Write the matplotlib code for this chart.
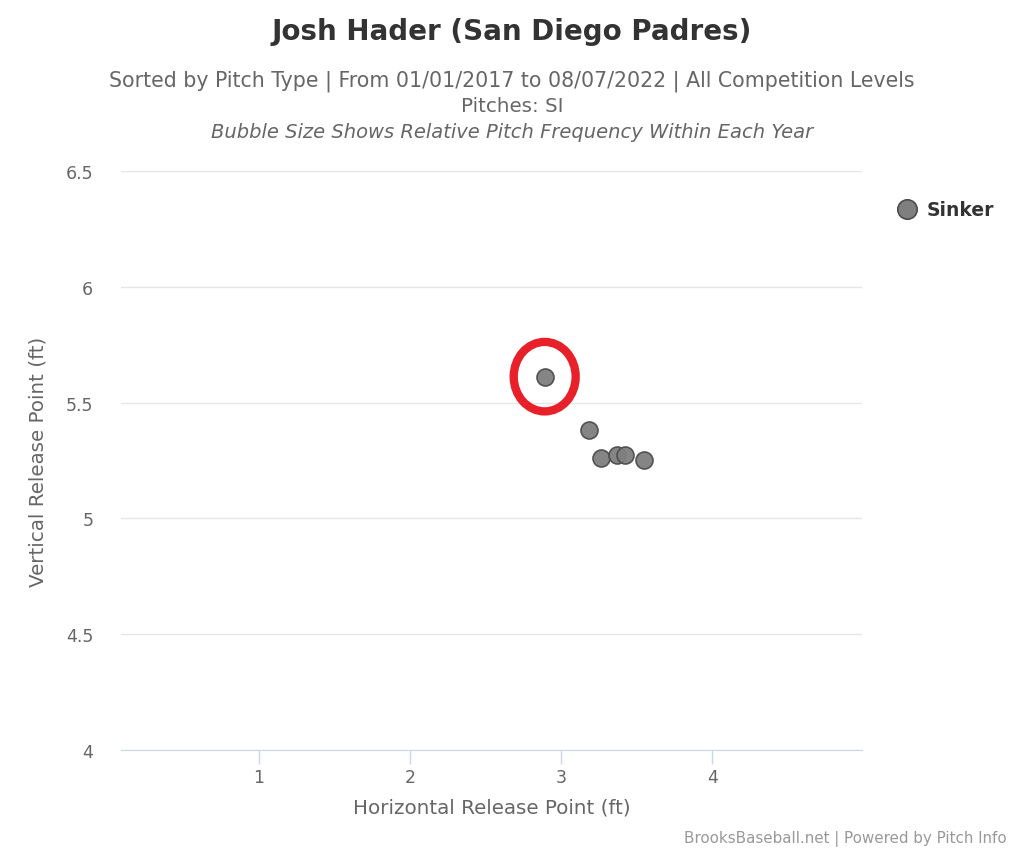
import matplotlib.pyplot as plt
from matplotlib.patches import Ellipse

plt.rcParams['font.family'] = ['DejaVu Sans']

# release points (ft)
horiz = [2.89, 3.18, 3.26, 3.37, 3.42, 3.545]
vert = [5.612, 5.382, 5.261, 5.272, 5.272, 5.252]
highlight = (2.89, 5.612)

x_ticks = [1, 2, 3, 4]
y_ticks = [4, 4.5, 5, 5.5, 6, 6.5]

fig = plt.figure(figsize=(10.24, 8.53), dpi=100)
ax = fig.add_axes([121/1024, 1 - 751/853, (862 - 121)/1024, (751 - 172)/853])

ax.scatter(horiz, vert, s=150, c='#7f7f7f', edgecolors='#4d4d4d',
           linewidths=1.2, alpha=0.95, zorder=3, clip_on=False)
ax.add_patch(Ellipse(highlight, 0.41, 0.30, fill=False, ec='#e8202a',
                     lw=6, zorder=4))

ax.set_xlim(0.086, 4.99)
ax.set_ylim(4, 6.5)
ax.set_xticks(x_ticks)
ax.set_yticks(y_ticks)
ax.set_yticklabels(['4', '4.5', '5', '5.5', '6', '6.5'])
ax.grid(axis='y', color='#e6e6e6', lw=1)
ax.set_axisbelow(True)
for s in ['top', 'right', 'left']:
    ax.spines[s].set_visible(False)
ax.spines['bottom'].set_color('#ccd6eb')
ax.tick_params(axis='x', colors='#ccd6eb', length=10, width=1, pad=3,
               labelcolor='#666666', labelsize=12.5)
ax.tick_params(axis='y', length=0, pad=20, labelcolor='#666666', labelsize=12.5)

ax.set_xlabel('Horizontal Release Point (ft)', fontsize=14.3, color='#666666',
              labelpad=8)
ax.set_ylabel('Vertical Release Point (ft)', fontsize=14.3, color='#666666',
              labelpad=13)

fig.text(0.5, 1 - 32/853, 'Josh Hader (San Diego Padres)', ha='center',
         va='center', fontsize=20, fontweight='bold', color='#333333')
fig.text(0.5, 1 - 81/853,
         'Sorted by Pitch Type | From 01/01/2017 to 08/07/2022 | All Competition Levels',
         ha='center', va='center', fontsize=14.8, color='#666666')
fig.text(0.5, 1 - 106/853, 'Pitches: SI', ha='center', va='center',
         fontsize=14.3, color='#666666')
fig.text(0.5, 1 - 132/853, 'Bubble Size Shows Relative Pitch Frequency Within Each Year',
         ha='center', va='center', fontsize=14, color='#666666', style='italic')

# legend
fig.legend(handles=[plt.Line2D([], [], ls='none', marker='o', ms=14,
                               mfc='#7f7f7f', mec='#4d4d4d', mew=1.2)],
           labels=['Sinker'], loc='center left',
           bbox_to_anchor=(876/1024, 1 - 211/853), frameon=False,
           prop={'weight': 'bold', 'size': 13.5}, labelcolor='#333333',
           handletextpad=0.3, handlelength=1.5)

fig.text(1 - 17/1024, 1 - 839/853, 'BrooksBaseball.net | Powered by Pitch Info',
         ha='right', va='center', fontsize=10.9, color='#999999')

fig.savefig('out.png', dpi=100)
